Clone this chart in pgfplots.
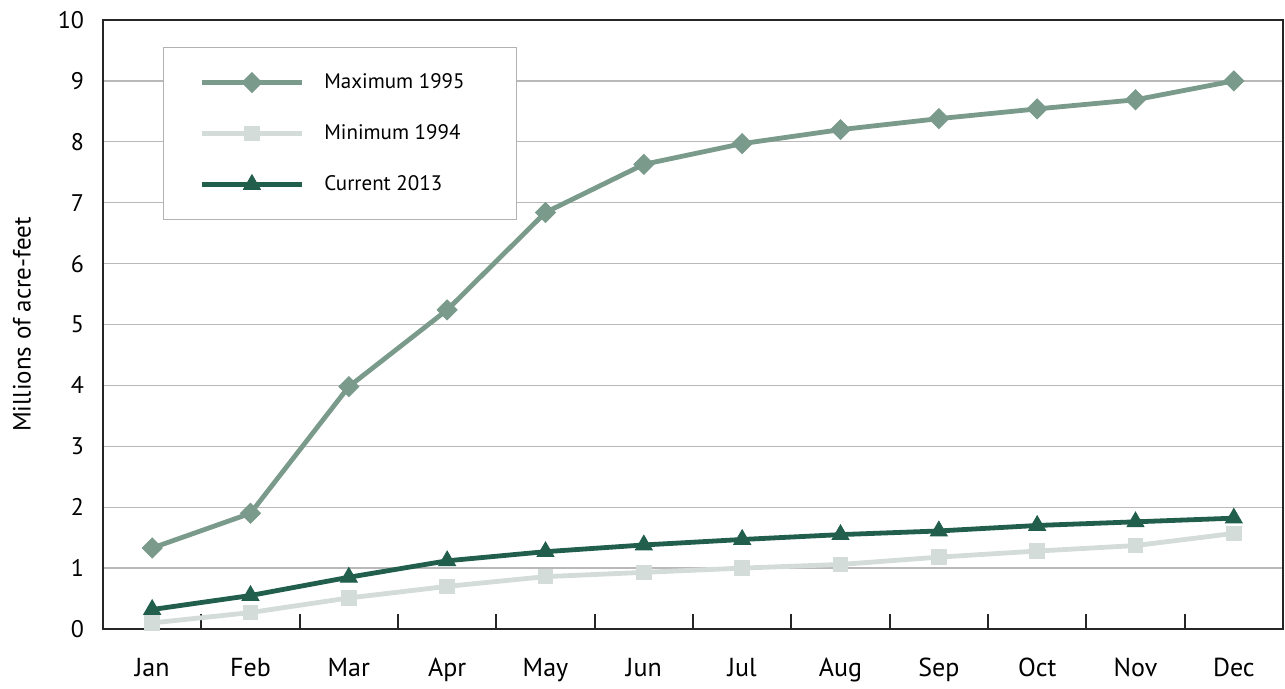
\documentclass[border=0pt]{standalone}
\usepackage{pgfplots}
\pgfplotsset{compat=1.18}
\usepackage{fontspec}
\setmainfont{PT Sans}
\definecolor{cmax}{HTML}{7A9A8B}
\definecolor{cmin}{HTML}{D3DCD8}
\definecolor{ccur}{HTML}{215E4C}
\begin{document}
\begin{tikzpicture}
\begin{axis}[
  at={(0,0)}, anchor=south west,
  scale only axis,
  width=590pt, height=304.5pt,
  xmin=-0.5, xmax=11.5, ymin=0, ymax=10,
  xtick={0,...,11},
  xticklabels={Jan,Feb,Mar,Apr,May,Jun,Jul,Aug,Sep,Oct,Nov,Dec},
  minor xtick={0.5,1.5,...,10.5},
  ytick={0,1,...,10},
  major tick length=0pt,
  minor tick length=7.5pt,
  tick align=inside,
  xtick pos=bottom, ytick pos=left,
  minor tick style={line width=0.9pt, black!85},
  ymajorgrids,
  major grid style={line width=0.7pt, gray!55},
  axis line style={line width=1.3pt, black!85},
  /pgf/number format/assume math mode=true,
  x tick label style={font=\fontsize{13}{15}\selectfont, yshift=-11pt},
  y tick label style={font=\fontsize{12}{14}\selectfont, xshift=-6pt},
  ylabel={Millions of acre-feet},
  every axis y label/.style={at={(rel axis cs:0,0.5)}, xshift=-40.5pt, rotate=90, anchor=center, font=\fontsize{12.5}{14}\selectfont},
  legend cell align=left,
  legend image code/.code={\draw[#1, mark repeat=2, mark phase=2] plot coordinates {(0pt,0pt) (25pt,0pt) (50pt,0pt)};},
  legend style={at={(0.0508,0.9557)}, anchor=north west, draw=gray!60, line width=0.6pt, fill=white,
    inner xsep=18pt, inner ysep=11pt, row sep=12.5pt,
    font=\fontsize{10.5}{12}\selectfont,
    /tikz/every odd column/.append style={column sep=8pt}},
]
\addplot[cmax, line width=2.4pt, mark=square*, mark size=3.5pt, mark options={rotate=45, draw=cmax, fill=cmax, solid, line width=0.5pt}]
 coordinates {(0,1.33) (1,1.90) (2,3.98) (3,5.24) (4,6.84) (5,7.63) (6,7.97) (7,8.20) (8,8.38) (9,8.54) (10,8.69) (11,9.00)};
\addlegendentry{Maximum 1995\rule{6pt}{0pt}}
\addplot[cmin, line width=2.4pt, mark=square*, mark size=3.6pt, mark options={draw=cmin, fill=cmin, solid, line width=0.5pt}]
 coordinates {(0,0.10) (1,0.27) (2,0.51) (3,0.70) (4,0.86) (5,0.93) (6,1.00) (7,1.06) (8,1.18) (9,1.28) (10,1.37) (11,1.57)};
\addlegendentry{Minimum 1994}
\addplot[ccur, line width=2.4pt, mark=triangle*, mark size=4.8pt, mark options={draw=ccur, fill=ccur, solid, line width=0.5pt}]
 coordinates {(0,0.32) (1,0.55) (2,0.85) (3,1.12) (4,1.27) (5,1.38) (6,1.47) (7,1.55) (8,1.61) (9,1.70) (10,1.76) (11,1.82)};
\addlegendentry{Current 2013}
\end{axis}
\useasboundingbox (-51.5pt,-25pt) rectangle (591pt,314.5pt);
\end{tikzpicture}
\end{document}
